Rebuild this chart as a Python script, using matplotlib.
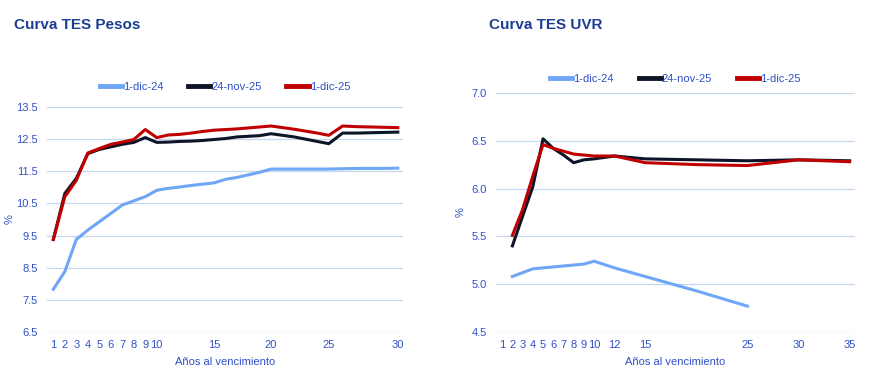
import matplotlib.pyplot as plt
import numpy as np

plt.rcParams["font.family"] = ["Liberation Sans", "DejaVu Sans"]

TITLE_COLOR = "#1c3d94"
TICK_COLOR = "#3050c8"
GRID_COLOR = "#c5d8f0"
SERIES_COLORS = ["#6fa6f5", "#0e1528", "#c00000"]
SERIES_LABELS = ["1-dic-24", "24-nov-25", "1-dic-25"]

# Curva TES Pesos
pesos_x = [1, 2, 3, 4, 5, 6, 7, 8, 9, 10, 11, 12, 13, 14, 15, 16, 17, 18, 19,
           20, 21, 22, 23, 24, 25, 26, 27, 28, 29, 30]
pesos_dic24 = [7.83, 8.38, 9.38, 9.67, 9.93, 10.19, 10.45, 10.58, 10.71, 10.91,
               10.97, 11.01, 11.06, 11.10, 11.14, 11.25, 11.31, 11.39, 11.47,
               11.57, 11.57, 11.57, 11.57, 11.57, 11.57, 11.58, 11.59, 11.59,
               11.59, 11.60]
pesos_nov25 = [9.38, 10.81, 11.28, 12.05, 12.18, 12.26, 12.34, 12.40, 12.55, 12.40,
               12.41, 12.43, 12.44, 12.46, 12.49, 12.52, 12.57, 12.59, 12.61,
               12.67, 12.62, 12.57, 12.50, 12.43, 12.36, 12.69, 12.69, 12.70,
               12.71, 12.72]
pesos_dic25 = [9.38, 10.71, 11.22, 12.07, 12.21, 12.34, 12.41, 12.49, 12.80, 12.55,
               12.63, 12.65, 12.69, 12.74, 12.78, 12.80, 12.82, 12.85, 12.88,
               12.91, 12.86, 12.81, 12.75, 12.69, 12.62, 12.91, 12.89, 12.88,
               12.87, 12.86]
pesos_ticks = [1, 2, 3, 4, 5, 6, 7, 8, 9, 10, 15, 20, 25, 30]
pesos_yticks = [6.5, 7.5, 8.5, 9.5, 10.5, 11.5, 12.5, 13.5]

# the Pesos x axis is not evenly spaced: the last 5-year segment is wider
pesos_scale_knots = [0, 1, 10, 15, 20, 25, 30, 31]
pesos_scale_pos = [-11.5, 0, 103.4, 160.7, 217.7, 275.4, 344.4, 358.2]

# Curva TES UVR
uvr_x_dic24 = [2, 3, 4, 5, 6, 7, 8, 9, 10, 12, 15, 20, 25]
uvr_dic24 = [5.08, 5.12, 5.16, 5.17, 5.18, 5.19, 5.20, 5.21, 5.24, 5.17, 5.08,
             4.93, 4.77]
uvr_x = [2, 3, 4, 5, 6, 7, 8, 9, 10, 12, 15, 20, 25, 30, 35]
uvr_nov25 = [5.40, 5.71, 6.02, 6.52, 6.42, 6.35, 6.27, 6.30, 6.31, 6.34, 6.31,
             6.30, 6.29, 6.30, 6.29]
uvr_dic25 = [5.51, 5.78, 6.13, 6.46, 6.42, 6.39, 6.36, 6.35, 6.34, 6.34, 6.27,
             6.25, 6.24, 6.30, 6.28]
uvr_ticks = [1, 2, 3, 4, 5, 6, 7, 8, 9, 10, 12, 15, 25, 30, 35]
uvr_yticks = [4.5, 5.0, 5.5, 6.0, 6.5, 7.0]


def style_axes(ax, xticks, yticks, xlim, ylim, ylabel_x):
    ax.set_xlim(*xlim)
    ax.set_ylim(*ylim)
    ax.set_xticks(xticks, [str(t) for t in xticks])
    ax.set_yticks(yticks, [f"{t:.1f}" for t in yticks])
    ax.tick_params(length=0, labelsize=8, labelcolor=TICK_COLOR)
    ax.tick_params(axis="x", pad=6)
    ax.tick_params(axis="y", pad=6.5)
    ax.grid(axis="y", color=GRID_COLOR, linewidth=0.9)
    ax.grid(axis="x", visible=False)
    ax.set_axisbelow(True)
    for spine in ax.spines.values():
        spine.set_visible(False)
    ax.set_xlabel("Años al vencimiento", fontsize=8, color=TICK_COLOR, labelpad=4.5)
    ax.set_ylabel("%", fontsize=8, color=TICK_COLOR)
    ax.yaxis.set_label_coords(ylabel_x, 0.5)


fig = plt.figure(figsize=(8.77, 3.73), dpi=100)
ax1 = fig.add_axes([0.0536, 0.110, 0.406, 0.603])
ax2 = fig.add_axes([0.5656, 0.110, 0.409, 0.641])

ax1.set_xscale("function", functions=(
    lambda v: np.interp(v, pesos_scale_knots, pesos_scale_pos),
    lambda p: np.interp(p, pesos_scale_pos, pesos_scale_knots),
))
for ys, color, label in zip([pesos_dic24, pesos_nov25, pesos_dic25], SERIES_COLORS, SERIES_LABELS):
    ax1.plot(pesos_x, ys, color=color, linewidth=2.2, label=label)
style_axes(ax1, pesos_ticks, pesos_yticks, (0.45, 30.38), (6.5, 13.5), -0.09)
ax1.xaxis.set_minor_locator(plt.NullLocator())

ax2.plot(uvr_x_dic24, uvr_dic24, color=SERIES_COLORS[0], linewidth=2.2, label=SERIES_LABELS[0])
ax2.plot(uvr_x, uvr_nov25, color=SERIES_COLORS[1], linewidth=2.2, label=SERIES_LABELS[1])
ax2.plot(uvr_x, uvr_dic25, color=SERIES_COLORS[2], linewidth=2.2, label=SERIES_LABELS[2])
style_axes(ax2, uvr_ticks, uvr_yticks, (0.4, 35.5), (4.5, 7.0), -0.085)

for ax, ypos in [(ax1, 1.09), (ax2, 1.06)]:
    leg = ax.legend(loc="center", bbox_to_anchor=(0.5, ypos), ncol=3, frameon=False,
                    fontsize=8, handlelength=2.0, handletextpad=0.1,
                    columnspacing=2.2, labelcolor=TICK_COLOR)
    for line in leg.get_lines():
        line.set_linewidth(3.5)

fig.text(0.016, 0.933, "Curva TES Pesos", fontsize=11, fontweight="bold",
         color=TITLE_COLOR, va="center")
fig.text(0.558, 0.933, "Curva TES UVR", fontsize=11, fontweight="bold",
         color=TITLE_COLOR, va="center")

fig.savefig("out.png", dpi=100)
